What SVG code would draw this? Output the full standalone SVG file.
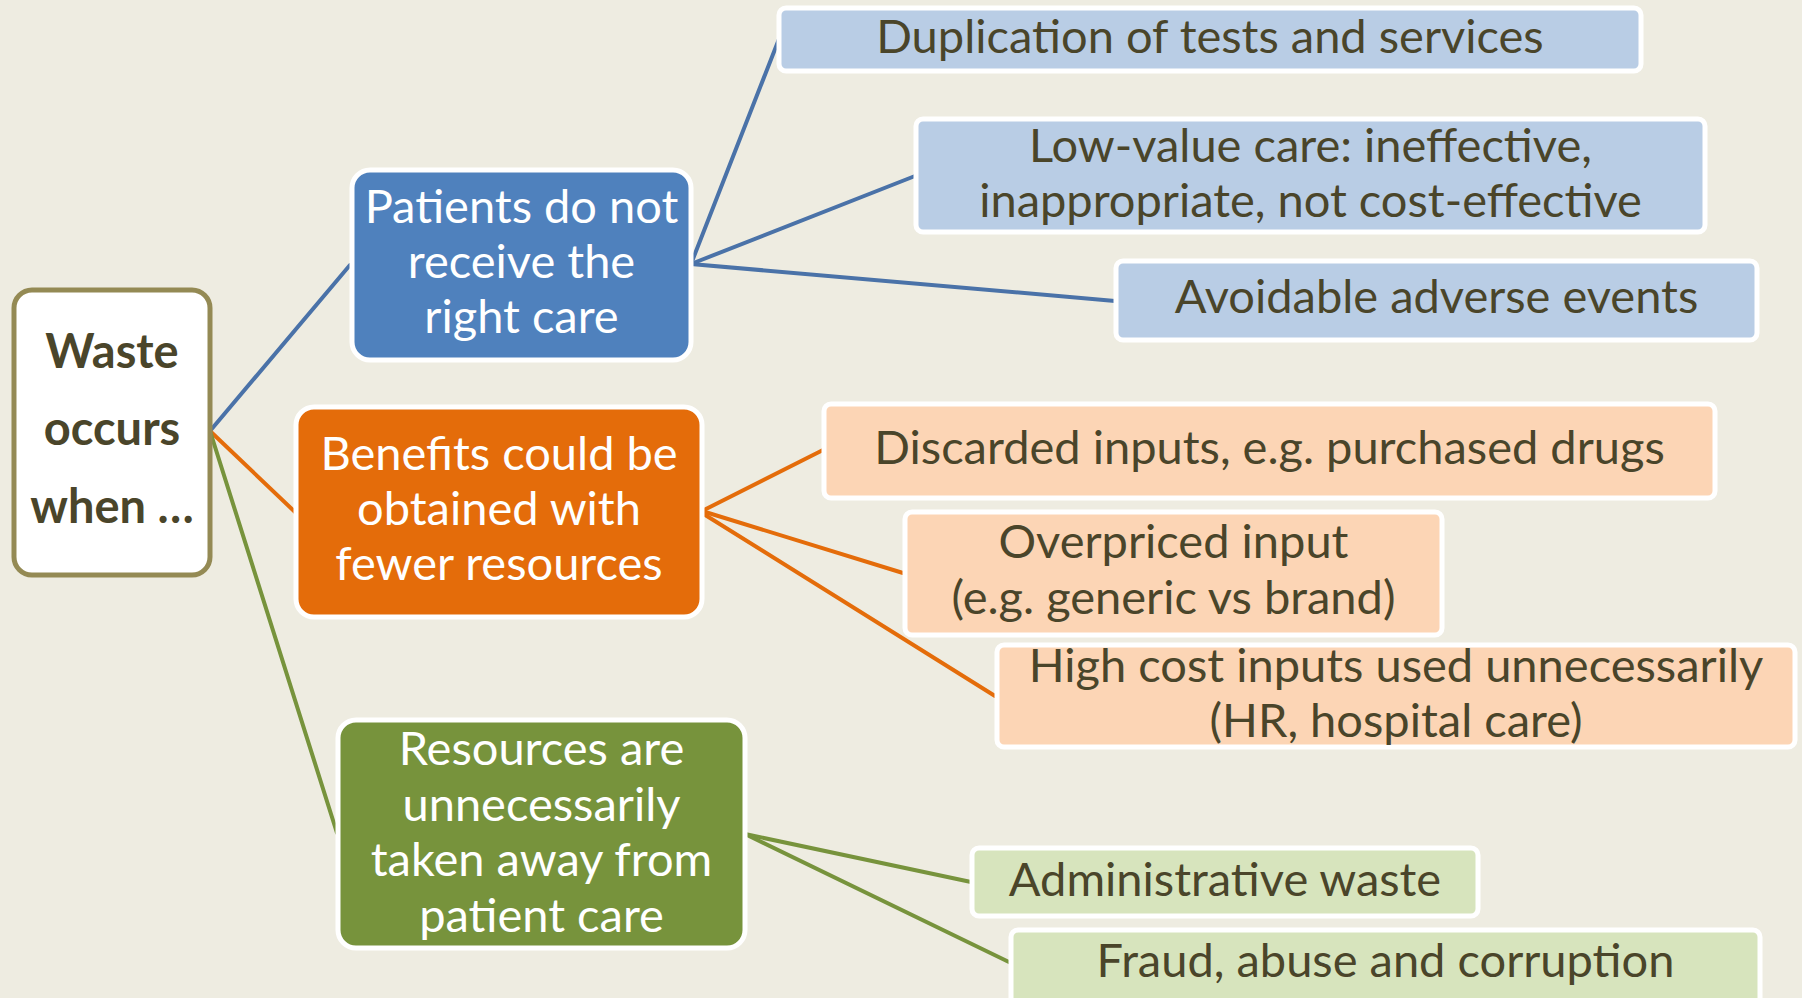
<svg xmlns="http://www.w3.org/2000/svg" width="1802" height="998" viewBox="0 0 1802 998">
<style>
.t{font-family:Lato,"Open Sans","Liberation Sans",sans-serif;text-anchor:middle}
.lf{font-size:47px;fill:#4A452A}
.mn{font-size:47px;fill:#FFFFFF}
.wb{font-size:47px;font-weight:bold;fill:#4A452A}
.c{fill:none;stroke-width:4;stroke-linecap:round}
.cb{stroke:#4A72A8}
.co{stroke:#E46C0A}
.cg{stroke:#77933C}
.box{stroke:#FFFFFF;stroke-width:5}
.bl{fill:#B9CDE5}
.or{fill:#FCD5B5}
.gr{fill:#D7E4BD}
</style>
<rect x="0" y="0" width="1802" height="998" fill="#EEECE1"/>
<g id="connectors">
<line class="c cb" x1="210" y1="431" x2="350" y2="265"/>
<line class="c co" x1="210" y1="431" x2="295" y2="512"/>
<line class="c cg" x1="210" y1="431" x2="337" y2="833"/>
<line class="c cb" x1="691" y1="264" x2="779" y2="39"/>
<line class="c cb" x1="691" y1="264" x2="915" y2="176"/>
<line class="c cb" x1="691" y1="264" x2="1115" y2="301"/>
<line class="c co" x1="702" y1="511" x2="823" y2="450"/>
<line class="c co" x1="702" y1="511" x2="903" y2="573"/>
<line class="c co" x1="702" y1="513" x2="995" y2="696"/>
<line class="c cg" x1="745" y1="834" x2="971" y2="882"/>
<line class="c cg" x1="745" y1="834" x2="1011" y2="963"/>
</g>
<g id="waste">
<rect x="14" y="290" width="196" height="285" rx="18" fill="#FFFFFF" stroke="#948A54" stroke-width="5"/>
<text class="t wb" x="112" y="368">Waste</text>
<text class="t wb" x="112" y="445">occurs</text>
<text class="t wb" x="112" y="523">when …</text>
</g>
<g id="patients">
<rect class="box" x="352" y="170" width="339" height="190" rx="18" fill="#4F81BD"/>
<text class="t mn" x="521.5" y="223">Patients do not</text>
<text class="t mn" x="521.5" y="278">receive the</text>
<text class="t mn" x="521.5" y="333">right care</text>
</g>
<g id="benefits">
<rect class="box" x="296" y="407" width="406" height="210" rx="18" fill="#E46C0A"/>
<text class="t mn" x="499" y="470">Benefits could be</text>
<text class="t mn" x="499" y="525">obtained with</text>
<text class="t mn" x="499" y="580">fewer resources</text>
</g>
<g id="resources">
<rect class="box" x="338" y="720" width="407" height="228" rx="18" fill="#77933C"/>
<text class="t mn" x="541.5" y="765">Resources are</text>
<text class="t mn" x="541.5" y="821">unnecessarily</text>
<text class="t mn" x="541.5" y="876">taken away from</text>
<text class="t mn" x="541.5" y="932">patient care</text>
</g>
<g id="duplication">
<rect class="box bl" x="779" y="8" width="862" height="63" rx="7"/>
<text class="t lf" x="1210" y="53">Duplication of tests and services</text>
</g>
<g id="lowvalue">
<rect class="box bl" x="916" y="119" width="789" height="113" rx="7"/>
<text class="t lf" x="1310.5" y="162">Low-value care: ineffective,</text>
<text class="t lf" x="1310.5" y="217">inappropriate, not cost-effective</text>
</g>
<g id="avoidable">
<rect class="box bl" x="1116" y="261" width="641" height="79" rx="7"/>
<text class="t lf" x="1436.5" y="313">Avoidable adverse events</text>
</g>
<g id="discarded">
<rect class="box or" x="824" y="404" width="891" height="94" rx="7"/>
<text class="t lf" x="1269.5" y="464">Discarded inputs, e.g. purchased drugs</text>
</g>
<g id="overpriced">
<rect class="box or" x="905" y="512" width="537" height="123" rx="7"/>
<text class="t lf" x="1173.5" y="558">Overpriced input</text>
<text class="t lf" x="1173.5" y="614">(e.g. generic vs brand)</text>
</g>
<g id="highcost">
<rect class="box or" x="997" y="645" width="798" height="102" rx="7"/>
<text class="t lf" x="1396" y="682">High cost inputs used unnecessarily</text>
<text class="t lf" x="1396" y="737">(HR, hospital care)</text>
</g>
<g id="administrative">
<rect class="box gr" x="972" y="848" width="506" height="68" rx="7"/>
<text class="t lf" x="1225" y="896">Administrative waste</text>
</g>
<g id="fraud">
<rect class="box gr" x="1011" y="930" width="749" height="90" rx="7"/>
<text class="t lf" x="1385.5" y="977">Fraud, abuse and corruption</text>
</g>
</svg>
